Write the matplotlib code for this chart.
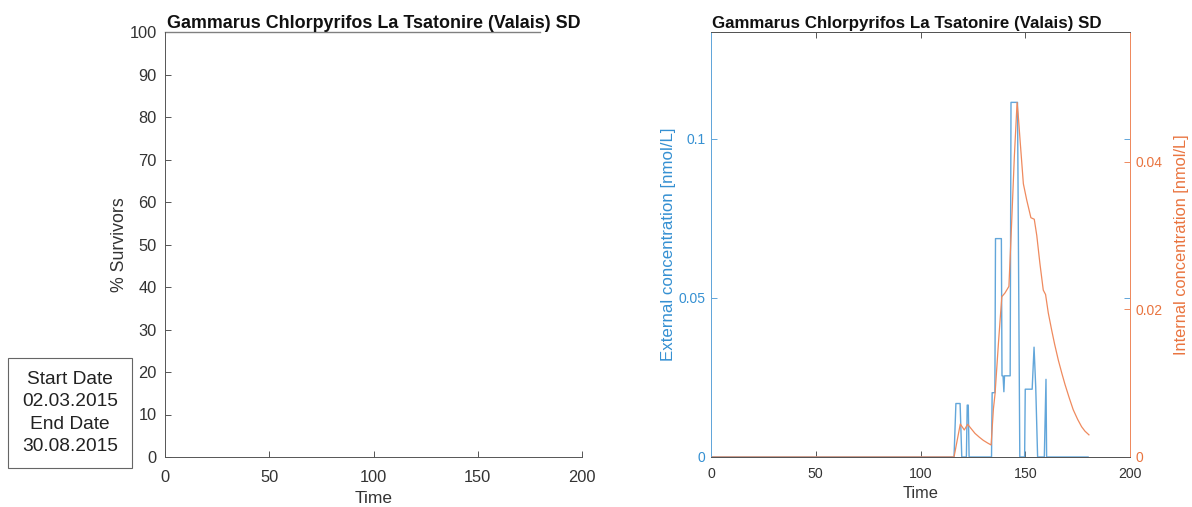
import matplotlib
matplotlib.use("Agg")
import matplotlib.pyplot as plt
from matplotlib.patches import Rectangle

plt.rcParams['font.family'] = ['Liberation Sans', 'DejaVu Sans']

TITLE = "Gammarus Chlorpyrifos La Tsatonire (Valais) SD"

# survival (left panel)
surv_t = [0, 180]
surv_pct = [100, 100]

# external concentration [nmol/L] (right panel, left axis)
ext_t = [0, 116.0, 116.9, 118.9, 119.7, 121.9, 122.3, 122.8, 123.2, 133.9, 134.2, 135.5, 135.8,
         138.6, 138.9, 139.4, 139.8, 140.1, 142.8, 143.2, 146.3, 147.4, 149.7, 150.0, 153.3,
         154.2, 155.0, 155.9, 159.1, 159.9, 160.2, 180.0]
ext_c = [0, 0, 0.0168, 0.0168, 0, 0, 0.0163, 0.0163, 0, 0, 0.0202, 0.0202, 0.0686,
         0.0686, 0.0255, 0.0255, 0.0205, 0.0255, 0.0255, 0.1114, 0.1114, 0, 0, 0.0213, 0.0213,
         0.0345, 0.0220, 0, 0, 0.0244, 0, 0]

# internal concentration [nmol/L] (right panel, right axis)
int_t = [0, 116.0, 119.0, 120.9, 122.5, 124.0, 126.0, 128.0, 130.0, 132.0, 133.7, 134.8, 135.6,
         136.4, 137.2, 138.8, 140.3, 142.2, 143.5, 144.8, 146.1, 146.6, 147.5, 148.3, 149.1,
         150.7, 152.7, 154.3, 155.5, 157.0, 158.6, 159.7, 161.0, 162.6, 164.0, 165.8, 167.5,
         169.0, 171.0, 172.9, 175.0, 176.9, 178.5, 180.4]
int_c = [0, 0, 0.00447, 0.00366, 0.00443, 0.0039, 0.0032, 0.0027, 0.00225, 0.0019, 0.00163, 0.0065, 0.0086,
         0.0120, 0.0154, 0.0217, 0.0222, 0.0231, 0.0317, 0.0407, 0.0480, 0.0465, 0.0430, 0.0400, 0.0370,
         0.0348, 0.0324, 0.0322, 0.0300, 0.0262, 0.0226, 0.0220, 0.0195, 0.0172, 0.0153, 0.0131, 0.0113,
         0.0098, 0.0080, 0.0064, 0.0051, 0.0041, 0.0035, 0.0030]

BLUE_LINE = '#62a6da'
BLUE_TXT = '#3590d2'
ORANGE_LINE = '#ef8a5e'
ORANGE_TXT = '#e9743f'
AXC = '#555555'
TXT = '#333333'

fig = plt.figure(figsize=(11.92, 5.07), dpi=100)
W, H = 1192, 507


def px_axes(x0, x1, ytop, ybot):
    return fig.add_axes([x0 / W, (H - ybot) / H, (x1 - x0) / W, (ybot - ytop) / H])


# ---- left panel ----
ax = px_axes(165, 582, 32, 457)
ax.plot(surv_t, surv_pct, color='#808080', lw=1.0, clip_on=False)
ax.set_xlim(0, 200)
ax.set_ylim(0, 100)
ax.set_xticks([0, 50, 100, 150, 200])
ax.set_yticks(range(0, 101, 10))
for s in ['top', 'right']:
    ax.spines[s].set_visible(False)
for s in ['left', 'bottom']:
    ax.spines[s].set_color(AXC)
    ax.spines[s].set_linewidth(0.7)
ax.tick_params(axis='y', direction='in', length=4, width=0.7, color=AXC, labelcolor=TXT, labelsize=11.8, pad=6)
ax.tick_params(axis='x', direction='in', length=4, width=0.7, color=AXC, labelcolor=TXT, labelsize=11.8, pad=9)
ax.set_xlabel('Time', fontsize=12.5, color=TXT, labelpad=5)
ax.set_ylabel('% Survivors', fontsize=12.8, color=TXT, labelpad=1)
ax.set_title(TITLE, fontsize=12.9, fontweight='bold', color='#111111', pad=3)

# date box
fig.add_artist(Rectangle((8 / W, (H - 468) / H), 124 / W, 110 / H, transform=fig.transFigure,
                         fill=False, edgecolor='#666666', lw=0.8))
fig.text(70 / W, (H - 413) / H, 'Start Date\n02.03.2015\nEnd Date\n30.08.2015', ha='center', va='center',
         fontsize=13.8, color='#222222', linespacing=1.4)

# ---- right panel ----
axl = px_axes(711, 1130, 32, 457)
axr = axl.twinx()
axl.plot(ext_t, ext_c, color=BLUE_LINE, lw=1.0)
axr.plot(int_t, int_c, color=ORANGE_LINE, lw=0.9)
axl.set_xlim(0, 200)
axl.set_ylim(0, 0.1335)
axr.set_ylim(0, 0.05755)
axl.set_xticks([0, 50, 100, 150, 200])
axl.set_yticks([0, 0.05, 0.1])
axl.set_yticklabels(['0', '0.05', '0.1'])
axr.set_yticks([0, 0.02, 0.04])
axr.set_yticklabels(['0', '0.02', '0.04'])

for a in (axl, axr):
    a.spines['top'].set_color(AXC)
    a.spines['bottom'].set_color(AXC)
    a.spines['left'].set_color(BLUE_LINE)
    a.spines['right'].set_color(ORANGE_LINE)
    for s in a.spines.values():
        s.set_linewidth(0.7)
axl.tick_params(axis='x', direction='in', length=4, width=0.7, color=AXC, labelcolor=TXT,
                labelsize=10.2, pad=7, top=True)
axl.tick_params(axis='y', direction='in', length=4, width=0.7, color=BLUE_LINE, labelcolor=BLUE_TXT,
                labelsize=10.0, pad=4, right=True)
axr.tick_params(axis='y', direction='in', length=4, width=0.7, color=ORANGE_LINE, labelcolor=ORANGE_TXT,
                labelsize=10.0, pad=4)
axl.set_xlabel('Time', fontsize=11.8, color=TXT, labelpad=4)
axl.set_ylabel('External concentration [nmol/L]', fontsize=12.2, color=BLUE_TXT, labelpad=2)
axr.set_ylabel('Internal concentration [nmol/L]', fontsize=11.8, color=ORANGE_TXT, labelpad=8.5)
axl.set_title(TITLE, fontsize=12.2, fontweight='bold', color='#111111', pad=3, x=0.467)

fig.savefig('out.png', dpi=100)
